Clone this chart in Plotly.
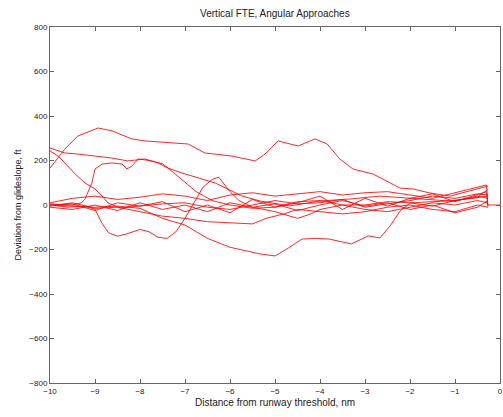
import plotly.graph_objects as go

# Distance from runway threshold (nm) and deviation from glideslope (ft)
# for each recorded approach.
ap1_x = [-10, -9.67, -9.38, -8.93, -8.62, -8.18, -7.89, -7.38, -6.93, -6.56, -5.96, -5.44,
         -5.22, -4.93, -4.49, -4.11, -3.84, -3.56, -3.27, -2.82, -2.51, -2.22, -1.93, -1.56,
         -1.11, -0.67, -0.27]
ap1_y = [166, 252, 310, 346, 333, 297, 288, 279, 274, 234, 220, 198,
         229, 288, 265, 297, 274, 207, 162, 139, 108, 76, 72, 54,
         40, 63, 85]

ap2_x = [-10, -9.67, -9.38, -9.0, -8.62, -8.27, -7.89, -7.6, -7.38, -7.07, -6.71, -6.33,
         -5.96, -5.73, -5.33, -4.67, -4.0, -3.33, -2.67, -1.78, -1.11, -0.6, -0.27]
ap2_y = [256, 234, 229, 220, 211, 198, 207, 189, 166, 144, 121, 99,
         63, 40, 18, -4, 18, 27, 40, 27, 18, 30, 40]

ap3_x = [-10, -9.82, -9.67, -9.44, -9.22, -9.0, -8.84, -8.71, -8.44, -8.0, -7.5, -7.0,
         -6.5, -6.0, -5.5, -5.0, -4.5, -4.0, -3.5, -3.0, -2.5, -2.0, -1.5, -1.0, -0.5, -0.27]
ap3_y = [243, 220, 189, 139, 99, 72, 40, 9, -13, -5, 5, 10,
         -10, -20, 0, 20, 5, 10, 25, -10, 5, 20, 40, 30, 50, 45]

ap4_x = [-10, -9.5, -9.3, -9.22, -9.07, -9.0, -8.84, -8.62, -8.4, -8.29, -8.18, -8.04,
         -7.8, -7.5, -7.4, -7.1, -6.75, -6.4, -6.0, -5.5, -5.0, -4.5, -4.0, -3.5, -3.0,
         -2.5, -2.0, -1.5, -1.0, -0.5, -0.27]
ap4_y = [5, 0, 10, 27, 99, 162, 184, 189, 184, 162, 175, 207,
         200, 185, 170, 120, 60, 20, 0, -15, -10, 15, 20, 0, 0,
         15, 10, -5, 20, 35, 70]

ap5_x = [-10, -9.6, -9.2, -9.0, -8.85, -8.7, -8.5, -8.3, -8.0, -7.8, -7.6, -7.4, -7.2,
         -7.0, -6.8, -6.6, -6.4, -6.25, -6.0, -5.8, -5.5, -5.0, -4.5, -4.2, -4.0, -3.5,
         -3.0, -2.5, -2.0, -1.5, -1.0, -0.5, -0.27]
ap5_y = [0, -10, -5, -20, -80, -125, -140, -130, -110, -120, -145, -150, -120,
         -60, 10, 80, 115, 125, 60, 20, -10, -30, -60, -40, -20, 0,
         -20, -30, -10, 10, 0, 20, 10]

ap6_x = [-10, -9.5, -9.0, -8.5, -8.0, -7.5, -7.0, -6.5, -6.0, -5.5, -5.2, -4.8, -4.5,
         -4.0, -3.5, -3.0, -2.5, -2.0, -1.5, -1.0, -0.5, -0.27]
ap6_y = [-5, 10, -15, -10, -30, -50, -60, -75, -80, -85, -60, -40, -20,
         -30, -40, -30, -10, 0, -20, -30, 0, -10]

ap7_x = [-10, -9.5, -9.0, -8.5, -8.0, -7.5, -7.0, -6.5, -6.0, -5.33, -5.0, -4.7, -4.4,
         -4.1, -3.8, -3.3, -2.93, -2.67, -2.44, -2.22, -2.0, -1.5, -1.0, -0.5, -0.27]
ap7_y = [0, -5, -10, -5, -15, -60, -90, -150, -190, -220, -229, -193, -153,
         -150, -153, -175, -139, -148, -94, -27, 9, 15, 20, 40, 30]

ap8_x = [-10, -9.5, -9.0, -8.5, -8.0, -7.5, -7.0, -6.5, -6.0, -5.5, -5.0, -4.5, -4.0,
         -3.5, -3.0, -2.5, -2.0, -1.5, -1.0, -0.6, -0.3, -0.27, 0]
ap8_y = [10, 30, 40, 25, 35, 50, 40, 20, 45, 55, 40, 50, 60,
         45, 55, 60, 45, 30, 55, 75, 90, 0, 0]

ap9_x = [-10, -9.5, -9.0, -8.5, -8.0, -7.5, -7.0, -6.5, -6.0, -5.5, -5.0, -4.5, -4.0,
         -3.5, -3.0, -2.5, -2.0, -1.5, -1.0, -0.5, -0.27]
ap9_y = [-10, -20, 0, -25, 10, -20, 0, -30, 10, -10, 5, -25, 0,
         20, -5, 10, -20, 0, -35, -10, 20]

ap10_x = [-10, -9.5, -9.0, -8.5, -8.0, -7.5, -7.0, -6.5, -6.0, -5.5, -5.0, -4.5, -4.0,
          -3.5, -3.0, -2.5, -2.0, -1.5, -1.0, -0.5, -0.3, -0.27]
ap10_y = [0, 5, -25, 10, -5, 15, -30, 0, -35, 25, -10, 10, 40,
          -20, 30, -5, 30, 50, 15, 45, 60, -10]

approaches = [
    (ap1_x, ap1_y), (ap2_x, ap2_y), (ap3_x, ap3_y), (ap4_x, ap4_y), (ap5_x, ap5_y),
    (ap6_x, ap6_y), (ap7_x, ap7_y), (ap8_x, ap8_y), (ap9_x, ap9_y), (ap10_x, ap10_y),
]

x_ticks = [-10, -9, -8, -7, -6, -5, -4, -3, -2, -1, 0]
y_ticks = [-800, -600, -400, -200, 0, 200, 400, 600, 800]

fig = go.Figure()
for xs, ys in approaches:
    fig.add_trace(go.Scatter(
        x=xs, y=ys, mode="lines",
        line=dict(color="rgba(255,0,0,0.85)", width=1),
        showlegend=False, hoverinfo="skip",
    ))

axis_common = dict(
    showgrid=False, zeroline=False,
    showline=True, linecolor="#666", linewidth=1,
    mirror="ticks", ticks="inside", ticklen=4, tickcolor="#666",
    tickfont=dict(family="Liberation Sans, Arial", size=8, color="#222"),
    automargin=False,
)

fig.update_layout(
    width=503, height=417,
    margin=dict(l=50, r=3, t=27, b=34),
    paper_bgcolor="white", plot_bgcolor="white",
    title=dict(
        text="Vertical FTE, Angular Approaches",
        x=0.5465, xanchor="center", y=0.968, yanchor="middle",
        font=dict(family="Liberation Sans, Arial", size=10, color="#222"),
    ),
    xaxis=dict(
        range=[-10, 0], tickvals=x_ticks,
        ticktext=[str(v).replace("-", "\u2212") for v in x_ticks],
        title=dict(text="Distance from runway threshold, nm", standoff=4,
                   font=dict(family="Liberation Sans, Arial", size=10, color="#222")),
        **axis_common,
    ),
    yaxis=dict(
        range=[-800, 800], tickvals=y_ticks,
        ticktext=[str(v).replace("-", "\u2212") for v in y_ticks],
        title=dict(text="Deviation from glideslope, ft", standoff=6,
                   font=dict(family="Liberation Sans, Arial", size=9, color="#222")),
        **axis_common,
    ),
)

fig.write_html("out.html")
